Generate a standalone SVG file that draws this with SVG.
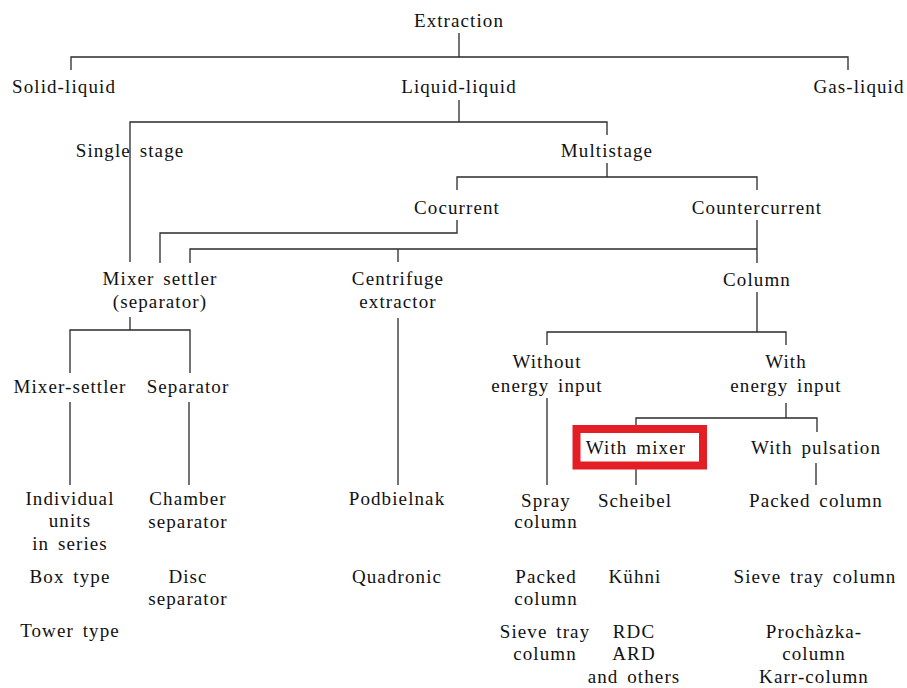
<svg xmlns="http://www.w3.org/2000/svg" width="907" height="688" viewBox="0 0 907 688">
<style>
  text { font-family: "Liberation Serif", "Times New Roman", serif; font-size: 19px; fill: #111111; text-anchor: middle; letter-spacing: 1.1px; word-spacing: 3px; }
  .ln { fill: none; stroke: #2a2a2a; stroke-width: 1.3; }
  .hl { fill: none; stroke: #e31e24; stroke-width: 8; }
</style>
<rect width="907" height="688" fill="#ffffff"/>
<g id="connectors">
  <path class="ln" d="M459,33 V57 M71,70 V57 H848 V70"/>
  <path class="ln" d="M459,100 V122 M130,262 V122 H607 V135"/>
  <path class="ln" d="M607,163 V177 M457,190 V177 H757 V190"/>
  <path class="ln" d="M457,220 V233 H160 V263"/>
  <path class="ln" d="M757,220 V263 M757,249 H190 V263 M398,249 V262"/>
  <path class="ln" d="M130,317 V330 M70,373 V330 H190 V373"/>
  <path class="ln" d="M70,402 V485 M189,402 V485"/>
  <path class="ln" d="M398,318 V485"/>
  <path class="ln" d="M757,292 V332 M547,345 V332 H786 V345"/>
  <path class="ln" d="M547,398 V485"/>
  <path class="ln" d="M786,403 V418 M636,425 V418 H817 V432"/>
  <path class="ln" d="M636,469 V485 M816,463 V485"/>
</g>
<g id="extraction"><text x="459" y="27">Extraction</text></g>
<g id="solid-liquid"><text x="64" y="93">Solid-liquid</text></g>
<g id="liquid-liquid"><text x="459" y="93">Liquid-liquid</text></g>
<g id="gas-liquid"><text x="859" y="93">Gas-liquid</text></g>
<g id="single-stage"><text x="130" y="157">Single stage</text></g>
<g id="multistage"><text x="607" y="157">Multistage</text></g>
<g id="cocurrent"><text x="457" y="214">Cocurrent</text></g>
<g id="countercurrent"><text x="757" y="214">Countercurrent</text></g>
<g id="mixer-settler-separator"><text x="160" y="285">Mixer settler</text><text x="160" y="308">(separator)</text></g>
<g id="centrifuge-extractor"><text x="398" y="285">Centrifuge</text><text x="398" y="308">extractor</text></g>
<g id="column"><text x="757" y="286">Column</text></g>
<g id="without-energy-input"><text x="547" y="368">Without</text><text x="547" y="392">energy input</text></g>
<g id="with-energy-input"><text x="786" y="368">With</text><text x="786" y="392">energy input</text></g>
<g id="mixer-settler"><text x="70" y="393">Mixer-settler</text></g>
<g id="separator"><text x="188" y="393">Separator</text></g>
<g id="with-mixer"><rect class="hl" x="576.5" y="429" width="126.5" height="36.5"/><text x="636" y="454">With mixer</text></g>
<g id="with-pulsation"><text x="816" y="454">With pulsation</text></g>
<g id="individual-units"><text x="70" y="505">Individual</text><text x="70" y="527">units</text><text x="70" y="550">in series</text></g>
<g id="chamber-separator"><text x="188" y="505">Chamber</text><text x="188" y="528">separator</text></g>
<g id="podbielnak"><text x="397" y="505">Podbielnak</text></g>
<g id="spray-column"><text x="546" y="507">Spray</text><text x="546" y="528">column</text></g>
<g id="scheibel"><text x="635" y="507">Scheibel</text></g>
<g id="packed-column-pulsed"><text x="816" y="507">Packed column</text></g>
<g id="box-type"><text x="70" y="583">Box type</text></g>
<g id="disc-separator"><text x="188" y="583">Disc</text><text x="188" y="605">separator</text></g>
<g id="quadronic"><text x="397" y="583">Quadronic</text></g>
<g id="packed-column"><text x="546" y="583">Packed</text><text x="546" y="605">column</text></g>
<g id="kuhni"><text x="635" y="583">Kühni</text></g>
<g id="sieve-tray-column-pulsed"><text x="815" y="583">Sieve tray column</text></g>
<g id="tower-type"><text x="70" y="637">Tower type</text></g>
<g id="sieve-tray-column"><text x="545" y="638">Sieve tray</text><text x="545" y="660">column</text></g>
<g id="rdc-ard"><text x="634" y="638">RDC</text><text x="634" y="660">ARD</text><text x="634" y="683">and others</text></g>
<g id="prochazka-karr"><text x="814" y="638">Prochàzka-</text><text x="814" y="660">column</text><text x="814" y="683">Karr-column</text></g>
</svg>
